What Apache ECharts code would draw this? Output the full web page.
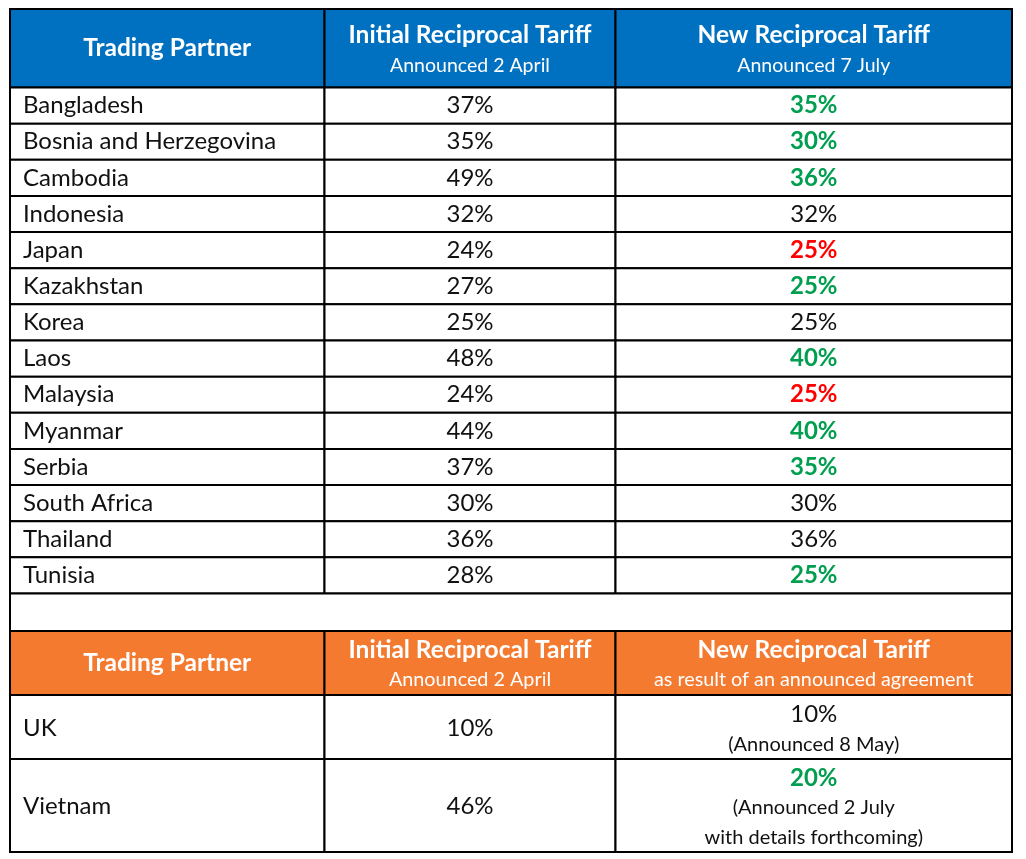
<!DOCTYPE html>
<html><head><meta charset="utf-8">
<script src="https://cdn.jsdelivr.net/npm/echarts@6/dist/echarts.min.js"></script>
<style>html,body{margin:0;padding:0;background:#fff}#c{width:1026px;height:859px}</style>
</head><body><div id="c"></div>
<script>
// ---------- data ----------
const headerTitles = ['Trading Partner', 'Initial Reciprocal Tariff', 'New Reciprocal Tariff'];
const headerSubtitles = ['', 'Announced 2 April', 'Announced 7 July'];
const partners = ['Bangladesh', 'Bosnia and Herzegovina', 'Cambodia', 'Indonesia', 'Japan', 'Kazakhstan', 'Korea', 'Laos', 'Malaysia', 'Myanmar', 'Serbia', 'South Africa', 'Thailand', 'Tunisia'];
const initialTariff = [37, 35, 49, 32, 24, 27, 25, 48, 24, 44, 37, 30, 36, 28];
const newTariff = [35, 30, 36, 32, 25, 25, 25, 40, 25, 40, 35, 30, 36, 25];
const agreementSubtitles = ['', 'Announced 2 April', 'as result of an announced agreement'];
const agreementPartners = ['UK', 'Vietnam'];
const agreementInitial = [10, 46];
const agreementNew = [10, 20];
const agreementNotes = [['(Announced 8 May)'], ['(Announced 2 July', 'with details forthcoming)']];

// ---------- layout & style ----------
const FONT = 'Lato';
const BLUE = '#0070C0', ORANGE = '#F47A30', GREEN = '#009E4F', RED = '#FF0000', INK = '#111111';
const TABLE_W = 1002, TABLE_H = 843;
const COLS = [0, 314.5, 605.5, 1002];
const H_HEAD = 78.5, H_ROW = 506 / 14, H_BLANK = 37.5, H_HEAD2 = 64, H_AG = [64, 93];
const DATA_SIZE = 24, HEAD_SIZE = 24.5, SUB_SIZE = 19.5, SUB2_SIZE = 19.8, NOTE_SIZE = 20;

function pct(v) { return v + '%'; }
function changeColor(a, b) { return b < a ? GREEN : (b > a ? RED : INK); }

const cells = [];
let y = 0;
function headerRow(fill, subs, h, subSize) {
  for (let c = 0; c < 3; c++) {
    const lines = subs[c]
      ? [{ t: headerTitles[c], color: '#fff', bold: true, size: HEAD_SIZE, off: -13 },
         { t: subs[c], color: '#fff', bold: false, size: subSize, off: 17 }]
      : [{ t: headerTitles[c], color: '#fff', bold: true, size: HEAD_SIZE, off: 0 }];
    cells.push({ value: [COLS[c], y, COLS[c + 1], y + h], fill, lines, align: 'center' });
  }
  y += h;
}
headerRow(BLUE, headerSubtitles, H_HEAD, SUB_SIZE);
partners.forEach((p, i) => {
  const a = initialTariff[i], b = newTariff[i];
  const col = changeColor(a, b);
  cells.push({ value: [COLS[0], y, COLS[1], y + H_ROW], fill: '#fff', align: 'left',
    lines: [{ t: p, color: INK, bold: false, size: DATA_SIZE, off: 0 }] });
  cells.push({ value: [COLS[1], y, COLS[2], y + H_ROW], fill: '#fff', align: 'center',
    lines: [{ t: pct(a), color: INK, bold: false, size: DATA_SIZE, off: 0 }] });
  cells.push({ value: [COLS[2], y, COLS[3], y + H_ROW], fill: '#fff', align: 'center',
    lines: [{ t: pct(b), color: col, bold: col !== INK, size: DATA_SIZE, off: 0 }] });
  y += H_ROW;
});
cells.push({ value: [COLS[0], y, COLS[3], y + H_BLANK], fill: '#fff', align: 'center', lines: [] });
y += H_BLANK;
headerRow(ORANGE, agreementSubtitles, H_HEAD2, SUB2_SIZE);
agreementPartners.forEach((p, i) => {
  const h = H_AG[i];
  const a = agreementInitial[i], b = agreementNew[i];
  const col = changeColor(a, b);
  cells.push({ value: [COLS[0], y, COLS[1], y + h], fill: '#fff', align: 'left',
    lines: [{ t: p, color: INK, bold: false, size: DATA_SIZE, off: 1 }] });
  cells.push({ value: [COLS[1], y, COLS[2], y + h], fill: '#fff', align: 'center',
    lines: [{ t: pct(a), color: INK, bold: false, size: DATA_SIZE, off: 1 }] });
  const notes = agreementNotes[i];
  const n = notes.length + 1, gap = 29.5;
  const start = -(n - 1) * gap / 2 + 2.5;
  const lines = [{ t: pct(b), color: col, bold: col !== INK, size: DATA_SIZE, off: start }];
  notes.forEach((t, k) => lines.push({ t, color: INK, bold: false, size: NOTE_SIZE, off: start + gap * (k + 1) }));
  cells.push({ value: [COLS[2], y, COLS[3], y + h], fill: '#fff', align: 'center', lines });
  y += h;
});

const chart = echarts.init(document.getElementById('c'), null, { renderer: 'canvas' });
chart.setOption({
  animation: false,
  grid: { left: 10, top: 9, width: TABLE_W, height: TABLE_H },
  xAxis: { type: 'value', min: 0, max: TABLE_W, show: false },
  yAxis: { type: 'value', min: 0, max: TABLE_H, inverse: true, show: false },
  series: [{
    type: 'custom',
    silent: true,
    clip: false,
    encode: { x: [0, 2], y: [1, 3] },
    data: cells.map(c => c.value),
    renderItem: function (params, api) {
      const d = cells[params.dataIndex];
      const p0 = api.coord([d.value[0], d.value[1]]);
      const p1 = api.coord([d.value[2], d.value[3]]);
      const cx = (p0[0] + p1[0]) / 2, cy = (p0[1] + p1[1]) / 2;
      const children = [{
        type: 'rect',
        shape: { x: p0[0], y: p0[1], width: p1[0] - p0[0], height: p1[1] - p0[1] },
        style: { fill: d.fill, stroke: '#000', lineWidth: 2 }
      }];
      d.lines.forEach(l => {
        children.push({
          type: 'text',
          x: d.align === 'left' ? p0[0] + 13 : cx,
          y: cy + l.off,
          style: {
            text: l.t, fill: l.color, fontFamily: FONT, fontSize: l.size,
            fontWeight: l.bold ? 'bold' : 'normal',
            align: d.align, verticalAlign: 'middle'
          }
        });
      });
      return { type: 'group', children };
    }
  }]
});
</script>
</body></html>
